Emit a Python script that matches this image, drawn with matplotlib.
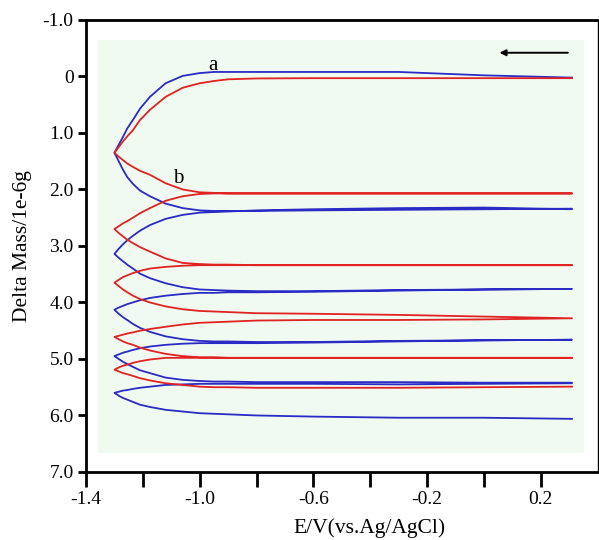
import matplotlib.pyplot as plt
from matplotlib.patches import Rectangle

plt.rcParams['font.family'] = ['Liberation Serif', 'DejaVu Serif']

# potentials read along each sweep (right -> left), the return sweep uses them reversed
E_pts = [0.31, 0.0, -0.3, -0.6, -0.8, -0.9, -0.95, -1.0, -1.06, -1.12,
         -1.175, -1.21, -1.235, -1.255, -1.27, -1.285, -1.30]

# blue run (a): cathodic and anodic sweep of each cycle, values at E_pts
blue_cathodic = [
    [0.02, -0.02, -0.08, -0.08, -0.08, -0.08, -0.08, -0.06, -0.01, 0.12, 0.36, 0.57, 0.77, 0.92, 1.07, 1.21, 1.35],
    [2.35, 2.32, 2.33, 2.35, 2.37, 2.39, 2.40, 2.41, 2.45, 2.52, 2.63, 2.73, 2.82, 2.90, 2.97, 3.05, 3.14],
    [3.76, 3.77, 3.79, 3.81, 3.82, 3.82, 3.83, 3.83, 3.85, 3.88, 3.92, 3.96, 4.00, 4.03, 4.06, 4.09, 4.13],
    [4.66, 4.67, 4.69, 4.71, 4.72, 4.72, 4.72, 4.72, 4.73, 4.75, 4.78, 4.81, 4.84, 4.87, 4.89, 4.92, 4.95],
    [5.43, 5.44, 5.45, 5.44, 5.44, 5.44, 5.44, 5.44, 5.45, 5.46, 5.49, 5.51, 5.53, 5.55, 5.56, 5.58, 5.60],
]
blue_anodic = [
    [2.34, 2.35, 2.36, 2.37, 2.38, 2.38, 2.38, 2.37, 2.33, 2.25, 2.12, 2.02, 1.90, 1.78, 1.65, 1.50, 1.35],
    [3.76, 3.77, 3.78, 3.80, 3.80, 3.79, 3.78, 3.77, 3.73, 3.66, 3.57, 3.49, 3.40, 3.33, 3.27, 3.21, 3.14],
    [4.66, 4.67, 4.68, 4.70, 4.70, 4.69, 4.69, 4.68, 4.65, 4.60, 4.52, 4.45, 4.38, 4.31, 4.26, 4.20, 4.13],
    [5.42, 5.42, 5.41, 5.41, 5.41, 5.40, 5.40, 5.39, 5.37, 5.33, 5.25, 5.20, 5.14, 5.09, 5.05, 5.00, 4.95],
    [6.06, 6.04, 6.04, 6.02, 6.00, 5.98, 5.97, 5.96, 5.93, 5.90, 5.85, 5.81, 5.76, 5.72, 5.69, 5.65, 5.60],
]

# red run (b)
red_cathodic = [
    [0.03, 0.03, 0.03, 0.03, 0.035, 0.05, 0.08, 0.12, 0.20, 0.36, 0.59, 0.77, 0.95, 1.06, 1.15, 1.25, 1.35],
    [2.07, 2.07, 2.07, 2.07, 2.07, 2.07, 2.07, 2.08, 2.12, 2.20, 2.33, 2.42, 2.50, 2.56, 2.60, 2.65, 2.70],
    [3.34, 3.34, 3.34, 3.34, 3.34, 3.34, 3.34, 3.34, 3.35, 3.37, 3.40, 3.44, 3.48, 3.52, 3.55, 3.60, 3.65],
    [4.28, 4.30, 4.31, 4.31, 4.32, 4.34, 4.35, 4.36, 4.39, 4.43, 4.47, 4.50, 4.53, 4.55, 4.57, 4.59, 4.61],
    [4.98, 4.98, 4.98, 4.98, 4.98, 4.98, 4.98, 4.98, 4.98, 4.98, 5.01, 5.04, 5.07, 5.10, 5.12, 5.15, 5.19],
]
red_anodic = [
    [2.07, 2.07, 2.07, 2.07, 2.07, 2.07, 2.06, 2.05, 2.00, 1.89, 1.74, 1.67, 1.60, 1.54, 1.48, 1.42, 1.35],
    [3.34, 3.34, 3.34, 3.34, 3.34, 3.33, 3.33, 3.32, 3.30, 3.22, 3.10, 3.02, 2.95, 2.89, 2.83, 2.77, 2.70],
    [4.28, 4.25, 4.22, 4.20, 4.19, 4.17, 4.16, 4.15, 4.12, 4.07, 4.00, 3.94, 3.88, 3.82, 3.77, 3.71, 3.65],
    [4.98, 4.98, 4.98, 4.98, 4.98, 4.98, 4.97, 4.97, 4.95, 4.91, 4.85, 4.80, 4.75, 4.72, 4.69, 4.65, 4.61],
    [5.49, 5.50, 5.51, 5.51, 5.51, 5.50, 5.50, 5.49, 5.46, 5.43, 5.38, 5.34, 5.30, 5.27, 5.25, 5.22, 5.19],
]

y_ticks = [-1, 0, 1, 2, 3, 4, 5, 6, 7]
y_labels = ['-1.0', '0', '1.0', '2.0', '3.0', '4.0', '5.0', '6.0', '7.0']
x_ticks = [-1.4, -1.2, -1.0, -0.8, -0.6, -0.4, -0.2, 0.0, 0.2]
x_labels = ['-1.4', '', '-1.0', '', '-0.6', '', '-0.2', '', '0.2']


def trace(cathodic, anodic):
    xs, ys = [], []
    for c, a in zip(cathodic, anodic):
        xs += E_pts + E_pts[::-1]
        ys += c + a[::-1]
    return xs, ys


fig = plt.figure(figsize=(5.99, 5.40), dpi=100)
ax = fig.add_axes([0.1436, 0.126, 0.854, 0.837])

ax.add_patch(Rectangle((-1.358, -0.65), 1.712, 7.31, facecolor='#f1faf1',
                       edgecolor='none', zorder=0))

bx, by = trace(blue_cathodic, blue_anodic)
rx, ry = trace(red_cathodic, red_anodic)
ax.plot(bx, by, color='#2a2ac4', lw=1.3, zorder=2)
ax.plot(rx, ry, color='#e02222', lw=1.3, zorder=3)

ax.text(-0.955, -0.2, 'a', fontsize=15, ha='center', va='center')
ax.text(-1.077, 1.8, 'b', fontsize=15, ha='center', va='center')
ax.annotate('', xy=(0.045, -0.42), xytext=(0.305, -0.42),
            arrowprops=dict(arrowstyle='-|>', color='black', lw=1.4,
                            mutation_scale=9))

ax.set_xlim(-1.4, 0.4)
ax.set_ylim(7, -1)
ax.set_xticks(x_ticks)
ax.set_xticklabels(x_labels)
ax.set_yticks(y_ticks)
ax.set_yticklabels(y_labels)
ax.tick_params(axis='x', direction='out', length=11, width=2, pad=3, labelsize=14)
ax.tick_params(axis='y', direction='out', length=6, width=2, pad=3, labelsize=14)

for side in ['left', 'bottom', 'top']:
    ax.spines[side].set_linewidth(2)
ax.spines['right'].set_linewidth(1)

ax.set_xlabel('E/V(vs.Ag/AgCl)', fontsize=15.5, va='center')
ax.set_ylabel('Delta Mass/1e-6g', fontsize=15.5, va='center')
ax.xaxis.set_label_coords(0.555, -0.124)
ax.yaxis.set_label_coords(-0.125, 0.5)

fig.savefig('out.png', dpi=100)
